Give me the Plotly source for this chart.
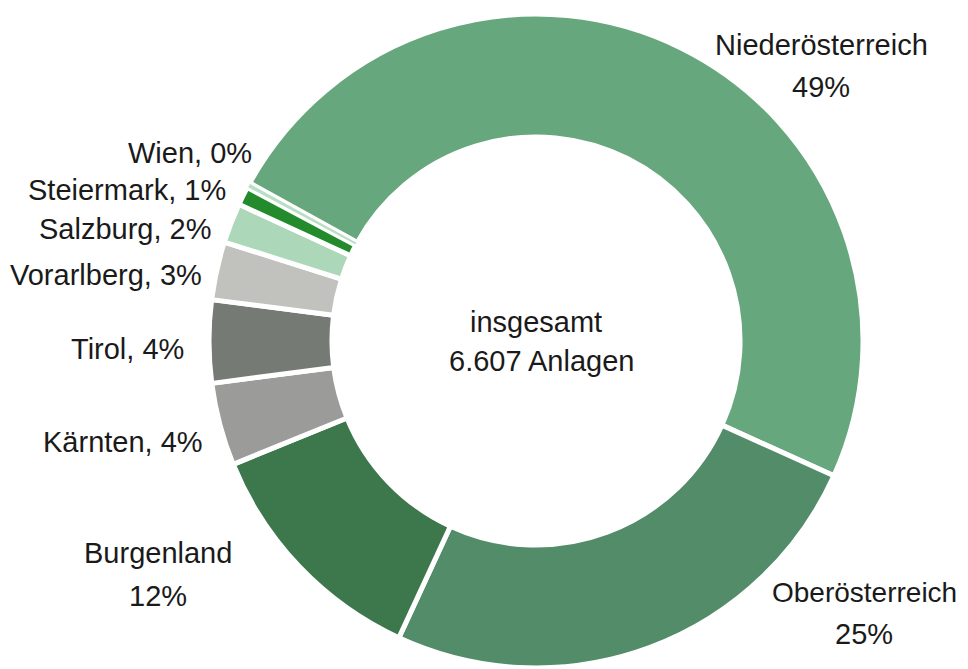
import plotly.graph_objects as go

# Data (counts chosen to match slice angles, total 6.607)
regions = ["Niederösterreich", "Oberösterreich", "Burgenland", "Kärnten",
           "Tirol", "Vorarlberg", "Salzburg", "Steiermark", "Wien"]
anlagen = [3220, 1660, 790, 270, 270, 190, 130, 60, 17]
pct_labels = ["49%", "25%", "12%", "4%", "4%", "3%", "2%", "1%", "0%"]
center_lines = ["insgesamt", "6.607 Anlagen"]

colors = ["#67a77e", "#538c68", "#3d774c", "#9b9c99", "#757a75",
          "#c1c2bd", "#acd8b9", "#238b2c", "#b9dfc4"]
line_widths = [5, 5, 5, 5, 5, 5, 5, 5, 1.5]

W, H = 968, 669
OFF = 8  # page body margin in the rendered html
cx, cy, R = 536 - OFF, 341 - OFF, 327

fig = go.Figure(go.Pie(
    labels=regions,
    values=anlagen,
    sort=False,
    direction="clockwise",
    rotation=-61.1,
    hole=0.624,
    textinfo="none",
    hoverinfo="label+value+percent",
    marker=dict(colors=colors, line=dict(color="white", width=line_widths)),
    domain=dict(x=[(cx - R) / W, (cx + R) / W],
                y=[(H - cy - R) / H, (H - cy + R) / H]),
    showlegend=False,
))

font = dict(family="Liberation Sans, Arial, sans-serif", size=29, color="#1a1a1a")

annotations = []
def add(text, x, y, xanchor="center", size=29):
    f = dict(font); f["size"] = size
    annotations.append(dict(text=text, x=(x - OFF) / W, y=1 - (y - OFF) / H,
                            xref="paper", yref="paper",
                            xanchor=xanchor, yanchor="middle", showarrow=False, font=f))

# two-line labels (name above, percent below)
two_line = {0: (821, 45, 87), 1: (864, 592, 634), 2: (158, 553, 596)}
for i, (x, y1, y2) in two_line.items():
    add(regions[i], x, y1, size=28 if i == 1 else 29)
    add(pct_labels[i], x, y2)

# one-line labels, right aligned
one_line = {8: (254, 153), 7: (228, 190), 6: (214, 229), 5: (204, 275), 4: (186, 349), 3: (205, 442)}
for i, (x, y) in one_line.items():
    add(f"{regions[i]}, {pct_labels[i]}", x, y, xanchor="right")

add(center_lines[0], 536, 322)
add(center_lines[1], 541, 361)

fig.update_layout(
    width=W, height=H,
    margin=dict(l=0, r=0, t=0, b=0),
    paper_bgcolor="white", plot_bgcolor="white",
    annotations=annotations,
)

fig.write_html("out.html")
